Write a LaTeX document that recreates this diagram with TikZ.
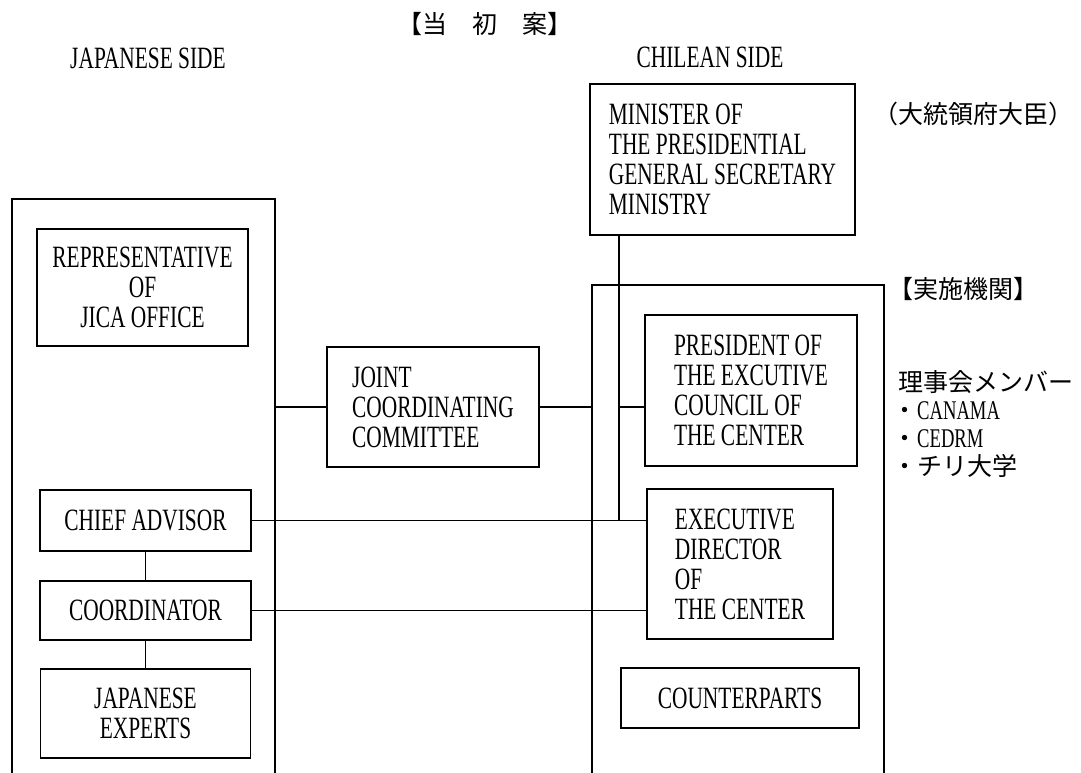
\documentclass[tikz,border=0pt]{standalone}
\usepackage{fontspec}
\setmainfont{Liberation Serif}[FakeStretch=0.69]
\newfontfamily\cjk{Noto Sans CJK JP}
\newcommand{\jp}[1]{{\cjk\fontsize{25}{27}\selectfont #1}}

\begin{document}
\begin{tikzpicture}[x=1pt,y=-1pt,
    every node/.style={font=\fontsize{31}{30}\selectfont,inner sep=0pt},
    orgbox/.style={draw,line width=1.5pt,align=center},
    listbox/.style={draw,line width=1.5pt,align=left},
    link/.style={line width=1.3pt}]
  \useasboundingbox (0,0) rectangle (1081,773);
  \clip (0,0) rectangle (1081,773);
  % the two side frames run on past the bottom of the page
  \node[orgbox,minimum width=263pt,minimum height=591pt] (japan) at (143.5,494.5) {};
  \node[orgbox,minimum width=292pt,minimum height=505pt] (chile) at (738,537.5) {};

  \node (title) at (485,24) {\jp{【当　初　案】}};
  \node (jside) at (148,58) {JAPANESE SIDE};
  \node (cside) at (710,57) {CHILEAN SIDE};

  \node[listbox,minimum width=265pt,minimum height=151pt] (minister) at (722.5,159.5)
    {MINISTER OF\\THE PRESIDENTIAL\\GENERAL SECRETARY\\MINISTRY};
  \node (ministerjp) at (973,114) {\jp{（大統領府大臣）}};

  % japanese side
  \node[orgbox,minimum width=211pt,minimum height=117pt] (rep) at (142.5,287.5)
    {REPRESENTATIVE\\OF\\JICA OFFICE};
  \node[orgbox,minimum width=211pt,minimum height=61pt] (chief) at (145.5,520.5) {CHIEF ADVISOR};
  \node[orgbox,minimum width=211pt,minimum height=59pt] (coord) at (145.5,610.5) {COORDINATOR};
  \node[orgbox,minimum width=210pt,minimum height=89pt] (experts) at (145.5,713.5)
    {JAPANESE\\EXPERTS};

  \node[listbox,minimum width=212pt,minimum height=120pt] (joint) at (433,407)
    {JOINT\\COORDINATING\\COMMITTEE};

  % chilean side
  \node[listbox,minimum width=212pt,minimum height=151pt] (president) at (751,390.5)
    {PRESIDENT OF\\THE EXCUTIVE\\COUNCIL OF\\THE CENTER};
  \node[listbox,minimum width=186pt,minimum height=150pt] (exec) at (740,564)
    {EXECUTIVE\\DIRECTOR\\OF\\THE CENTER};
  \node[orgbox,minimum width=238pt,minimum height=60pt] (counter) at (740,698) {COUNTERPARTS};

  \node (agency) at (963,289) {\jp{【実施機関】}};
  \node[align=left,anchor=north west,font=\fontsize{27}{28}\selectfont] (members) at (892,370)
    {\hspace*{6pt}\jp{理事会メンバー}\\\jp{・}CANAMA\\\jp{・}CEDRM\\\jp{・チリ大学}};

  \coordinate (mfoot) at (619,520);
  \draw[link] (joint.west) -- (joint.west -| japan.east);
  \draw[link] (joint.east) -- (joint.east -| chile.west);
  \draw[link] (mfoot |- minister.south) -- (mfoot);
  \draw[link] (mfoot |- joint.east) -- (president.west |- joint.east);
  \draw[link] (chief.east) -- (exec.west |- chief.east);
  \draw[link] (coord.east) -- (exec.west |- coord.east);
  \draw[link] (chief) -- (coord);
  \draw[link] (coord) -- (experts);
\end{tikzpicture}
\end{document}
